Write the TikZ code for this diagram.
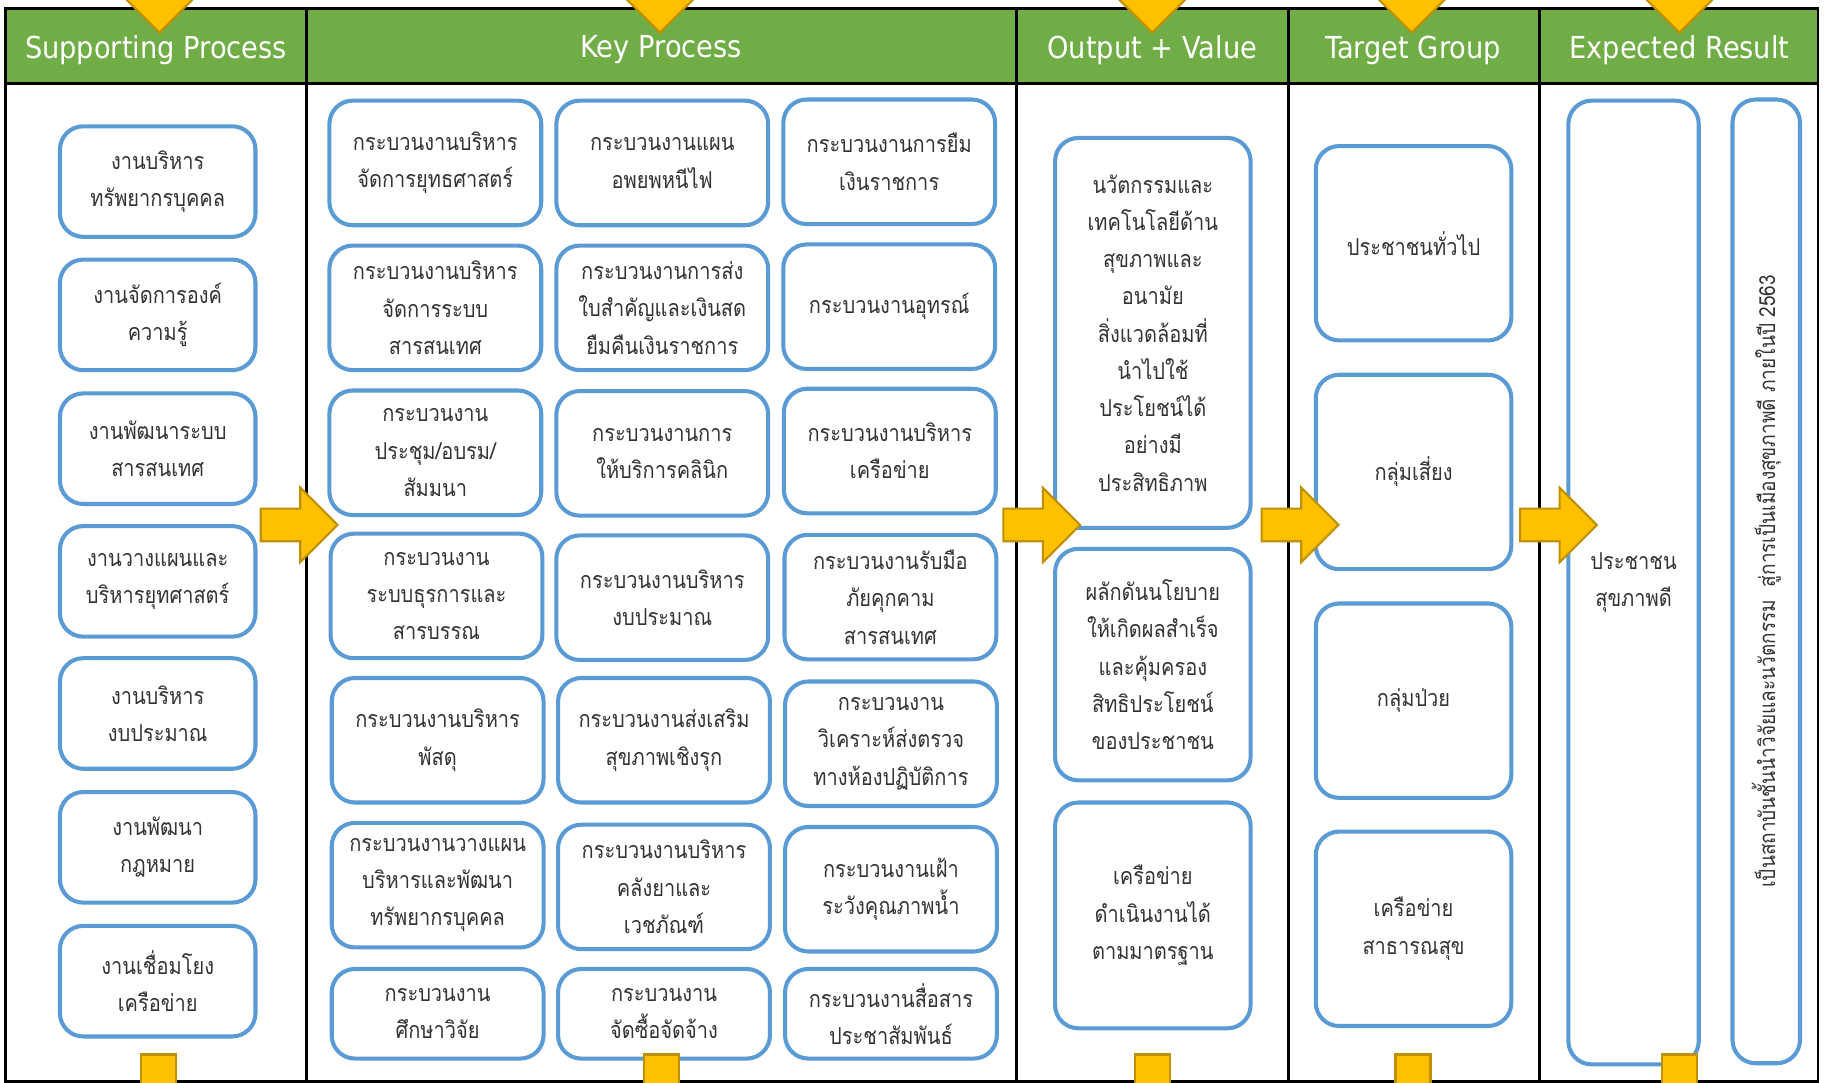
\documentclass[tikz,border=0pt]{standalone}
\usepackage{fontspec}
\newfontfamily\thaifont[Script=Thai,FakeStretch=0.86]{Loma}
\newfontfamily\headfont[FakeStretch=0.9]{DejaVu Sans}
\definecolor{hdrgreen}{HTML}{70AD47}
\definecolor{boxblue}{HTML}{5B9BD5}
\definecolor{ayellow}{HTML}{FFC000}
\definecolor{aedge}{HTML}{BF9000}
\tikzset{
  box/.style={draw=boxblue, line width=3.5pt, rounded corners=20pt, fill=white, align=center,
    inner sep=2pt, text=black!80, font=\thaifont\fontsize{20}{32}\selectfont},
  lbox/.style={box, minimum width=168pt, minimum height=95pt},
  kbox/.style={box, minimum width=182pt, minimum height=107pt},
  kboxs/.style={box, minimum width=182pt, minimum height=77pt},
  obox/.style={box, minimum width=168pt},
  tbox/.style={box, minimum width=168pt, minimum height=167pt},
  head/.style={text=white, font=\headfont\fontsize{26}{30}\selectfont},
  yel/.style={fill=ayellow, draw=aedge, line width=1.8pt},
  frame/.style={draw=black, line width=2.5pt},
}
\newcommand{\blockarrow}[2]{%
  \draw[yel] (#1-66,#2-14) -- (#1-32,#2-14) -- (#1-32,#2-32) -- (#1,#2) -- (#1-32,#2+32) -- (#1-32,#2+14) -- (#1-66,#2+14) -- cycle;}
\newcommand{\downtri}[1]{%
  \draw[yel] (#1-31,-3) -- (#1+31,-3) -- (#1,28) -- cycle;}
\newcommand{\footrect}[1]{%
  \draw[yel] (#1-15,906) rectangle (#1+15,934);}
\begin{document}
\begin{tikzpicture}[x=1pt,y=-1pt]
\useasboundingbox (0,0) rectangle (1568,930);
\fill[white] (0,0) rectangle (1568,930);
% header band and frame
\fill[hdrgreen] (5,7) rectangle (1562,72);
\draw[frame] (5,7) rectangle (1562,929);
\draw[frame] (5,72) -- (1562,72);
\foreach \xx in {263,873,1107,1323} \draw[frame] (\xx,7) -- (\xx,929);
% header texts
\node[head] (h1) at (134,43) {Supporting Process};
\node[head] (h2) at (568,43) {Key Process};
\node[head] (h3) at (990,43) {Output + Value};
\node[head] (h4) at (1214,43) {Target Group};
\node[head] (h5) at (1443,43) {Expected Result};
% supporting process
\node[lbox] (s1) at (135.5,156) {งานบริหาร\\ทรัพยากรบุคคล};
\node[lbox] (s2) at (135.5,270.5) {งานจัดการองค์\\ความรู้};
\node[lbox] (s3) at (135.5,385.5) {งานพัฒนาระบบ\\สารสนเทศ};
\node[lbox] (s4) at (135.5,499.5) {งานวางแผนและ\\บริหารยุทศาสตร์};
\node[lbox] (s5) at (135.5,613) {งานบริหาร\\งบประมาณ};
\node[lbox] (s6) at (135.5,728) {งานพัฒนา\\กฎหมาย};
\node[lbox] (s7) at (135.5,843) {งานเชื่อมโยง\\เครือข่าย};
% key process
\node[kbox] (k11) at (374,140) {กระบวนงานบริหาร\\จัดการยุทธศาสตร์};
\node[kbox] (k12) at (569,140) {กระบวนงานแผน\\อพยพหนีไฟ};
\node[kbox] (k13) at (764,139) {กระบวนงานการยืม\\เงินราชการ};
\node[kbox] (k21) at (374,264.5) {กระบวนงานบริหาร\\จัดการระบบ\\สารสนเทศ};
\node[kbox] (k22) at (569,264.5) {กระบวนงานการส่ง\\ใบสำคัญและเงินสด\\ยืมคืนเงินราชการ};
\node[kbox] (k23) at (764,263.5) {กระบวนงานอุทรณ์};
\node[kbox] (k31) at (374,389) {กระบวนงาน\\ประชุม/อบรม/\\สัมมนา};
\node[kbox] (k32) at (569,389.5) {กระบวนงานการ\\ให้บริการคลินิก};
\node[kbox] (k33) at (764.5,387.5) {กระบวนงานบริหาร\\เครือข่าย};
\node[kbox] (k41) at (375,512) {กระบวนงาน\\ระบบธุรการและ\\สารบรรณ};
\node[kbox] (k42) at (569,513.5) {กระบวนงานบริหาร\\งบประมาณ};
\node[kbox] (k43) at (765,513) {กระบวนงานรับมือ\\ภัยคุกคาม\\สารสนเทศ};
\node[kbox] (k51) at (376,636) {กระบวนงานบริหาร\\พัสดุ};
\node[kbox] (k52) at (570.5,636) {กระบวนงานส่งเสริม\\สุขภาพเชิงรุก};
\node[kbox] (k53) at (765.5,639) {กระบวนงาน\\วิเคราะห์ส่งตรวจ\\ทางห้องปฏิบัติการ};
\node[kbox] (k61) at (376,760.5) {กระบวนงานวางแผน\\บริหารและพัฒนา\\ทรัพยากรบุคคล};
\node[kbox] (k62) at (570.5,762) {กระบวนงานบริหาร\\คลังยาและ\\เวชภัณฑ์};
\node[kbox] (k63) at (765.5,764) {กระบวนงานเฝ้า\\ระวังคุณภาพน้ำ};
\node[kboxs] (k71) at (376,871) {กระบวนงาน\\ศึกษาวิจัย};
\node[kboxs] (k72) at (570.5,871) {กระบวนงาน\\จัดซื้อจัดจ้าง};
\node[kboxs] (k73) at (765.5,871) {กระบวนงานสื่อสาร\\ประชาสัมพันธ์};
% output + value
\node[obox, minimum height=335pt] (o1) at (990.5,286) {นวัตกรรมและ\\เทคโนโลยีด้าน\\สุขภาพและ\\อนามัย\\สิ่งแวดล้อมที่\\นำไปใช้\\ประโยชน์ได้\\อย่างมี\\ประสิทธิภาพ};
\node[obox, minimum height=199pt] (o2) at (990.5,571) {ผลักดันนโยบาย\\ให้เกิดผลสำเร็จ\\และคุ้มครอง\\สิทธิประโยชน์\\ของประชาชน};
\node[obox, minimum height=194pt] (o3) at (990.5,786.5) {เครือข่าย\\ดำเนินงานได้\\ตามมาตรฐาน};
% target group
\node[tbox] (t1) at (1214.5,209) {ประชาชนทั่วไป};
\node[tbox] (t2) at (1214.5,405.5) {กลุ่มเสี่ยง};
\node[tbox] (t3) at (1214.5,602) {กลุ่มป่วย};
\node[tbox] (t4) at (1214.5,798) {เครือข่าย\\สาธารณสุข};
% expected result
\node[box, minimum width=112pt, minimum height=828pt] (e1) at (1403.5,500.5) {ประชาชน\\สุขภาพดี};
\node[box, rotate=90, minimum width=828pt, minimum height=58pt, font=\thaifont\fontsize{19}{30}\selectfont] (e2) at (1517.5,499.5) {เป็นสถาบันชั้นนำวิจัยและนวัตกรรม\ \ สู่การเป็นเมืองสุขภาพดี ภายในปี 2563};
% arrows
\blockarrow{290}{451}
\blockarrow{928}{451}
\blockarrow{1150}{451}
\blockarrow{1372}{451}
% top triangles
\downtri{137}
\downtri{567}
\downtri{990}
\downtri{1213}
\downtri{1443}
% bottom rectangles
\footrect{136}
\footrect{568}
\footrect{990}
\footrect{1214}
\footrect{1443}
\end{tikzpicture}
\end{document}
